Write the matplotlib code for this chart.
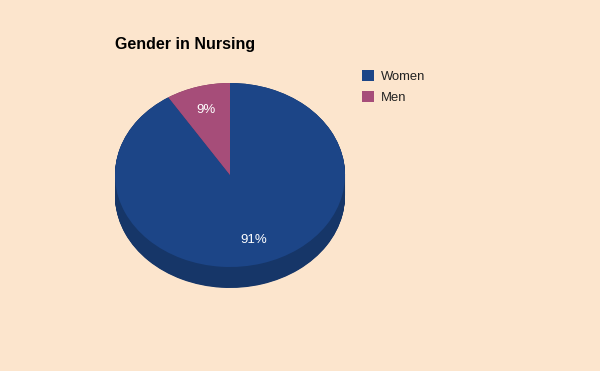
import numpy as np
import matplotlib.pyplot as plt

# data
labels = ["Women", "Men"]
values = [91, 9]
colors = ["#1c4587", "#a64d79"]
side_colors = ["#163668", "#7e3a5c"]
title = "Gender in Nursing"

bg = "#fce5cd"
plt.rcParams['font.family'] = ['Liberation Sans', 'DejaVu Sans']

fig = plt.figure(figsize=(6, 3.71), dpi=100)
fig.patch.set_facecolor(bg)

W, H = 600, 371
# pie box in pixels: left 115, top 83, width 230, ellipse height 184, depth 21
depth = 21 / 92.0
ax = fig.add_axes([115 / W, (H - 288) / H, 230 / W, 205 / H])
ax.set_facecolor(bg)

# side walls: stack darker copies going down
for off in np.linspace(depth, 0, 40):
    ax.pie(values, colors=side_colors, startangle=90, counterclock=False,
           center=(0, -off), wedgeprops=dict(linewidth=0))

wedges, texts, autotexts = ax.pie(values, colors=colors, startangle=90, counterclock=False,
                                  autopct='%1.0f%%', pctdistance=0.74,
                                  wedgeprops=dict(linewidth=0),
                                  textprops=dict(color="white", fontsize=9.5))

ax.set_aspect('auto')
ax.set_xlim(-1, 1)
ax.set_ylim(-1 - depth, 1)
ax.axis('off')

fig.text(115 / W, 1 - 45 / H, title, fontsize=11.5, fontweight='bold', va='center', ha='left')

fig.legend(wedges, labels, loc='upper left', bbox_to_anchor=(362 / W, 1 - 70 / H),
           frameon=False, fontsize=9.4, handlelength=0.92, handleheight=0.92,
           handletextpad=0.5, labelspacing=0.62, borderaxespad=0, borderpad=0,
           labelcolor="#222222")

fig.savefig("out.png", dpi=100, facecolor=bg)
